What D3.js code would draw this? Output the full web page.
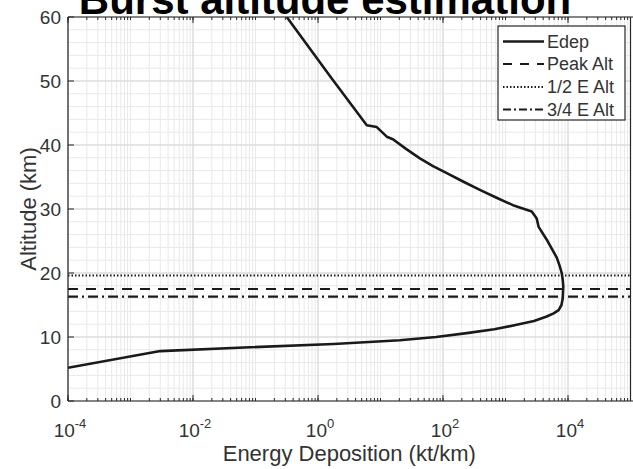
<!DOCTYPE html>
<html>
<head>
<meta charset="utf-8">
<script src="https://cdn.jsdelivr.net/npm/d3@7"></script>
<style>
  html, body { margin: 0; padding: 0; background: #fff; }
  svg { display: block; font-family: "Liberation Sans", Arial, Helvetica, sans-serif; }
</style>
</head>
<body>
<svg id="chart" width="633" height="469"></svg>
<script>
// Energy deposition profile: altitude (km) vs deposited energy (kt/km)
const altitudeKm = [60, 50.4, 43.1, 42.8, 41.3, 40.9, 39.4, 37.9, 36.7, 35.6, 34.3, 33.0, 31.8, 30.6, 29.6, 28.5, 27.2, 25.2, 22.4, 21.2, 20.0, 19.0, 17.9, 16.0, 15.0, 14.2, 13.7, 13.2, 12.5, 11.9, 11.2, 10.6, 10.0, 9.5, 8.9, 8.4, 7.8, 5.2];
const energyKtPerKm = [0.316, 1.66, 6.03, 8.71, 12.6, 15.8, 25.6, 42.7, 69.2, 115, 209, 389, 705, 1318, 2630, 3160, 3390, 4570, 6610, 7310, 7940, 8220, 8410, 8220, 7870, 7080, 5890, 4570, 2860, 1510, 661, 240, 77.6, 20.4, 1.78, 0.081, 0.0030, 0.0001];

// Characteristic altitudes (km)
const peakAlt = 17.5;
const halfEnergyAlt = 19.6;
const threeQuarterEnergyAlt = 16.3;

// Axis ticks
const yTicks = [0, 10, 20, 30, 40, 50, 60];
const xTickExponents = [-4, -2, 0, 2, 4];

const legendLabels = ["Edep", "Peak Alt", "1/2 E Alt", "3/4 E Alt"];

const W = 633, H = 469;
const plot = { left: 68, right: 630.5, top: 17, bottom: 401 };

const svg = d3.select("#chart");

const x = d3.scaleLog().domain([1e-4, 1e5]).range([plot.left, plot.right]);
const y = d3.scaleLinear().domain([0, 60]).range([plot.bottom, plot.top]);

svg.append("rect").attr("width", W).attr("height", H).attr("fill", "#fff");

const defs = svg.append("defs");
defs.append("clipPath").attr("id", "plotClip")
  .append("rect")
  .attr("x", plot.left).attr("y", plot.top)
  .attr("width", plot.right - plot.left).attr("height", plot.bottom - plot.top);

// Grid
const grid = svg.append("g");
const minorX = [];
for (let e = -4; e <= 4; e++) for (let k = 1; k <= 9; k++) minorX.push(k * Math.pow(10, e));
minorX.push(1e5);
grid.selectAll(".gx").data(minorX).join("line")
  .attr("x1", d => x(d)).attr("x2", d => x(d))
  .attr("y1", plot.top).attr("y2", plot.bottom)
  .attr("stroke", "#e9e9e9").attr("stroke-width", 1);
const minorY = d3.range(0, 61, 2);
grid.selectAll(".gy").data(minorY).join("line")
  .attr("x1", plot.left).attr("x2", plot.right)
  .attr("y1", d => y(d)).attr("y2", d => y(d))
  .attr("stroke", "#e9e9e9").attr("stroke-width", 1);
grid.selectAll(".gxm").data(xTickExponents.map(e => Math.pow(10, e))).join("line")
  .attr("x1", d => x(d)).attr("x2", d => x(d))
  .attr("y1", plot.top).attr("y2", plot.bottom)
  .attr("stroke", "#d6d6d6").attr("stroke-width", 1);
grid.selectAll(".gym").data(yTicks).join("line")
  .attr("x1", plot.left).attr("x2", plot.right)
  .attr("y1", d => y(d)).attr("y2", d => y(d))
  .attr("stroke", "#d6d6d6").attr("stroke-width", 1);

// Data lines
const data = altitudeKm.map((a, i) => ({ alt: a, e: energyKtPerKm[i] }));
const lines = svg.append("g").attr("clip-path", "url(#plotClip)");

function hLine(alt, dash, width) {
  lines.append("line")
    .attr("x1", plot.left).attr("x2", plot.right)
    .attr("y1", y(alt)).attr("y2", y(alt))
    .attr("stroke", "#1a1a1a").attr("stroke-width", width)
    .attr("stroke-dasharray", dash);
}
hLine(halfEnergyAlt, "1.5,2", 2);
hLine(peakAlt, "10,8", 2.2);
hLine(threeQuarterEnergyAlt, "10,4,2,4", 2.2);

const lineGen = d3.line()
  .x(d => x(d.e)).y(d => y(d.alt))
  .curve(d3.curveLinear);
lines.append("path").datum(data)
  .attr("d", lineGen)
  .attr("fill", "none").attr("stroke", "#1a1a1a").attr("stroke-width", 2.6)
  .attr("stroke-linejoin", "round");

// Axes frame and ticks
const axisColor = "#262626";
const ax = svg.append("g").attr("stroke", axisColor).attr("fill", "none");
ax.append("line").attr("x1", plot.left).attr("x2", plot.left).attr("y1", plot.top).attr("y2", plot.bottom).attr("stroke-width", 1.2);
ax.append("line").attr("x1", plot.left).attr("x2", W).attr("y1", plot.bottom).attr("y2", plot.bottom).attr("stroke-width", 1.2);
ax.append("line").attr("x1", plot.left).attr("x2", W).attr("y1", plot.top).attr("y2", plot.top).attr("stroke-width", 1.2);
ax.append("line").attr("x1", plot.right).attr("x2", plot.right).attr("y1", plot.top).attr("y2", plot.bottom).attr("stroke-width", 1.2);

// x ticks (inside, bottom and top)
ax.selectAll(".xtMinor").data(minorX).join("line")
  .attr("x1", d => x(d)).attr("x2", d => x(d))
  .attr("y1", plot.bottom).attr("y2", plot.bottom - 3).attr("stroke-width", 1);
ax.selectAll(".xtMinorTop").data(minorX).join("line")
  .attr("x1", d => x(d)).attr("x2", d => x(d))
  .attr("y1", plot.top).attr("y2", plot.top + 3).attr("stroke-width", 1);
ax.selectAll(".xtMajor").data(xTickExponents).join("line")
  .attr("x1", d => x(Math.pow(10, d))).attr("x2", d => x(Math.pow(10, d)))
  .attr("y1", plot.bottom).attr("y2", plot.bottom - 6).attr("stroke-width", 1);
ax.selectAll(".xtMajorTop").data(xTickExponents).join("line")
  .attr("x1", d => x(Math.pow(10, d))).attr("x2", d => x(Math.pow(10, d)))
  .attr("y1", plot.top).attr("y2", plot.top + 6).attr("stroke-width", 1);
// y ticks
ax.selectAll(".yt").data(yTicks).join("line")
  .attr("x1", plot.left).attr("x2", plot.left + 6)
  .attr("y1", d => y(d)).attr("y2", d => y(d)).attr("stroke-width", 1);

// Tick labels
const tickColor = "#333";
const tickFont = 19;
svg.append("g").selectAll("text").data(yTicks).join("text")
  .attr("x", plot.left - 7).attr("y", d => y(d) + tickFont * 0.35)
  .attr("text-anchor", "end").attr("font-size", tickFont).attr("fill", tickColor)
  .text(d => d);

const xl = svg.append("g").selectAll("text").data(xTickExponents).join("text")
  .attr("x", d => x(Math.pow(10, d)) + 2).attr("y", plot.bottom + 36)
  .attr("text-anchor", "middle").attr("font-size", tickFont).attr("fill", tickColor);
xl.append("tspan").text("10");
xl.append("tspan").attr("font-size", 13).attr("dy", -9).text(d => d);

// Axis labels
svg.append("text")
  .attr("x", (plot.left + plot.right) / 2).attr("y", 461)
  .attr("text-anchor", "middle").attr("font-size", 22).attr("fill", tickColor)
  .text("Energy Deposition (kt/km)");
svg.append("text")
  .attr("transform", `translate(36, ${(plot.top + plot.bottom) / 2}) rotate(-90)`)
  .attr("text-anchor", "middle").attr("font-size", 22).attr("fill", tickColor)
  .text("Altitude (km)");

// Title
svg.append("text")
  .attr("x", 325).attr("y", 14)
  .attr("text-anchor", "middle").attr("font-size", 42).attr("font-weight", "bold").attr("fill", "#000")
  .text("Burst altitude estimation");

// Legend
const lg = svg.append("g");
lg.append("rect").attr("x", 498).attr("y", 26).attr("width", 127).attr("height", 94)
  .attr("fill", "#fff").attr("stroke", "#262626").attr("stroke-width", 1.2);
const legendDash = ["none", "9,8", "1.5,2", "8,3,2,3"];
const legendWidth = [2.6, 2.2, 2, 2.2];
const legendY = [41.5, 64, 87, 109.5];
legendLabels.forEach((lab, i) => {
  lg.append("line").attr("x1", 503).attr("x2", 544)
    .attr("y1", legendY[i]).attr("y2", legendY[i])
    .attr("stroke", "#1a1a1a").attr("stroke-width", legendWidth[i])
    .attr("stroke-dasharray", legendDash[i]);
  lg.append("text").attr("x", 547).attr("y", legendY[i] + 6.3)
    .attr("font-size", 18).attr("fill", tickColor).text(lab);
});
</script>
</body>
</html>
